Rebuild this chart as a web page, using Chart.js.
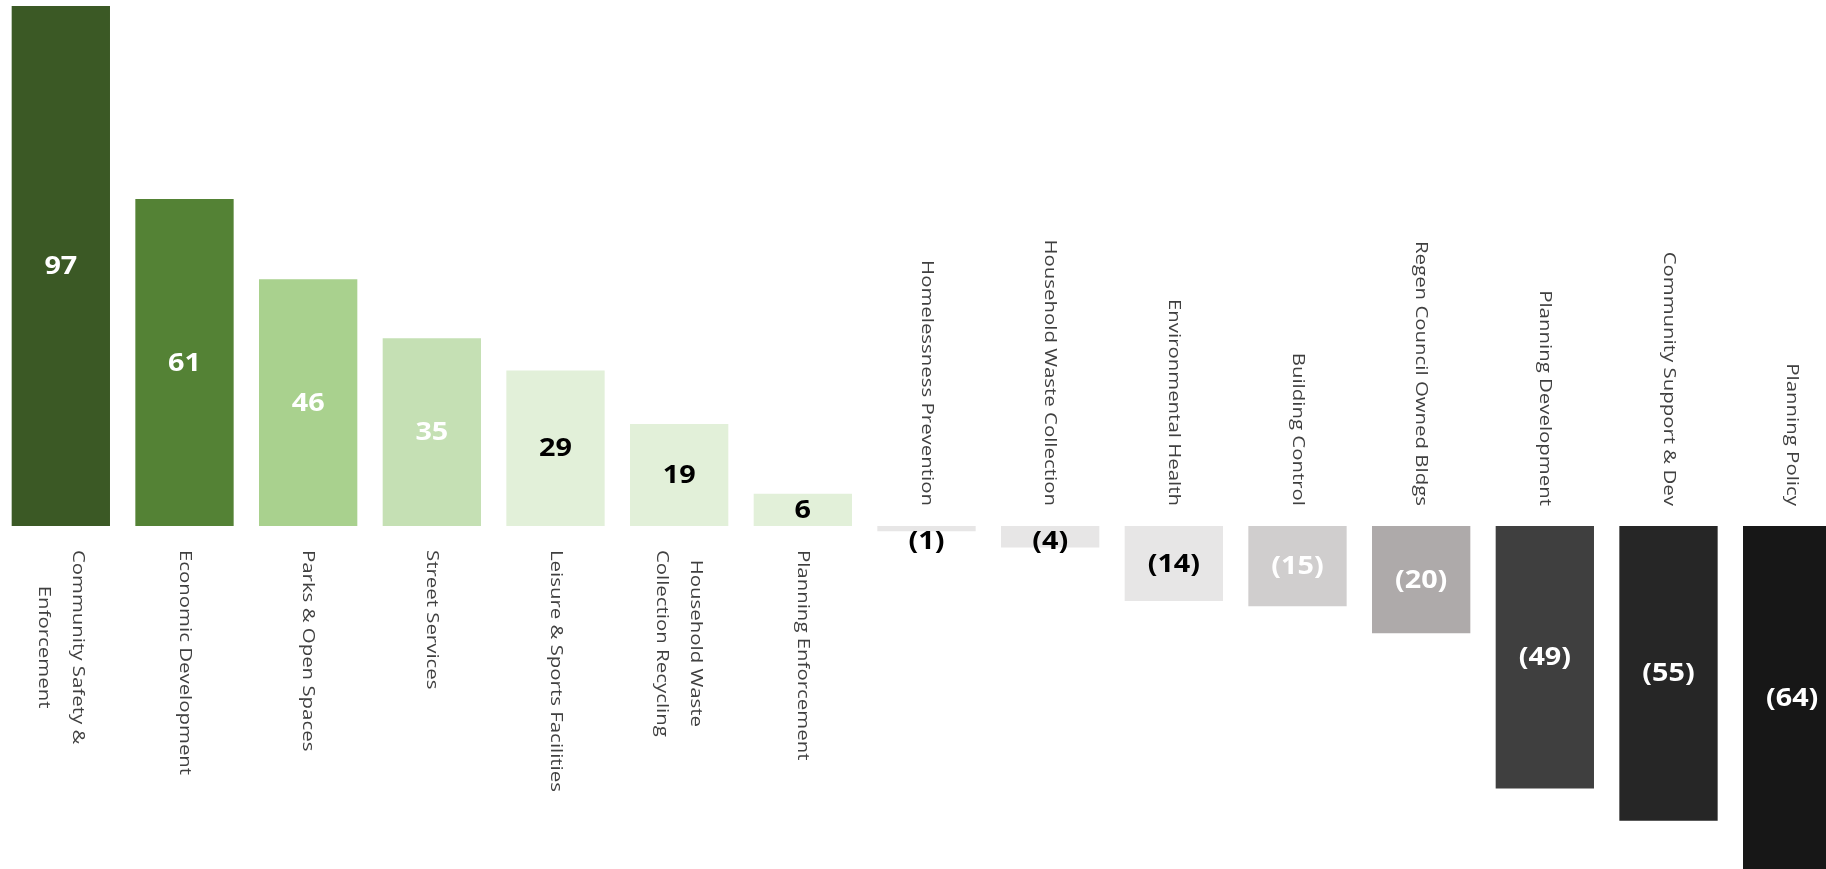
<!DOCTYPE html>
<html lang="en">
<head>
    <meta charset="UTF-8">
    <title>Service Variance</title>
    <script src="https://cdn.jsdelivr.net/npm/chart.js@4/dist/chart.umd.min.js"></script>
    <style>
        html, body {
            margin: 0;
            padding: 0;
            background: #ffffff;
            overflow: hidden;
        }
        .chart-wrap {
            position: absolute;
            left: -1px;
            top: 0;
            width: 1855px;
            height: 869px;
        }
    </style>
</head>
<body>
    <div class="chart-wrap">
        <canvas id="varianceChart"></canvas>
    </div>

    <script>
        // Services, split where the original wraps onto two lines
        const categories = [
            ['Community Safety &', 'Enforcement'],
            'Economic Development',
            'Parks & Open Spaces',
            'Street Services',
            'Leisure & Sports Facilities',
            ['Household Waste', 'Collection Recycling'],
            'Planning Enforcement',
            'Homelessness Prevention',
            'Household Waste Collection',
            'Environmental Health',
            'Building Control',
            'Regen Council Owned Bldgs',
            'Planning Development',
            'Community Support & Dev',
            'Planning Policy'
        ];

        const values = [97, 61, 46, 35, 29, 19, 6, -1, -4, -14, -15, -20, -49, -55, -64];

        const yMin = -64;
        const yMax = 97;

        const barColors = [
            '#3b5925', '#548235', '#a9d18e', '#c5e0b4', '#e2f0d9', '#e2f0d9', '#e2f0d9',
            '#e7e6e6', '#e7e6e6', '#e7e6e6', '#d0cece', '#aeaaaa', '#3f3f3f', '#262626', '#171717'
        ];
        const valueColors = [
            '#ffffff', '#ffffff', '#ffffff', '#ffffff', '#000000', '#000000', '#000000',
            '#000000', '#000000', '#000000', '#ffffff', '#ffffff', '#ffffff', '#ffffff', '#ffffff'
        ];

        // draws the value inside each bar and the rotated service name on the other side of zero
        const barLabels = {
            id: 'barLabels',
            afterDatasetsDraw(chart) {
                const ctx = chart.ctx;
                const xs = chart.scales.x;
                const ys = chart.scales.y;
                const zero = ys.getPixelForValue(0);

                values.forEach((v, i) => {
                    const px = xs.getPixelForValue(i);
                    const end = ys.getPixelForValue(v);

                    // value
                    let cy = (zero + end) / 2;
                    if (v < 0) cy = Math.max(cy, zero + 15);
                    else cy = Math.min(cy, zero - 15);
                    ctx.save();
                    ctx.translate(px, cy);
                    ctx.scale(1.15, 1);
                    ctx.font = 'bold 25px "Open Sans"';
                    ctx.fillStyle = valueColors[i];
                    ctx.textAlign = 'center';
                    ctx.textBaseline = 'middle';
                    ctx.fillText(v < 0 ? '(' + (-v) + ')' : String(v), 0, 1);
                    ctx.restore();

                    // category name, rotated clockwise
                    const lines = Array.isArray(categories[i]) ? categories[i] : [categories[i]];
                    ctx.save();
                    ctx.translate(px, v >= 0 ? zero + 24 : zero - 20);
                    ctx.rotate(Math.PI / 2);
                    ctx.scale(1.2, 1);
                    ctx.font = '17px "Open Sans"';
                    ctx.fillStyle = '#404040';
                    ctx.textAlign = 'left';
                    ctx.textBaseline = 'middle';
                    const widest = Math.max(...lines.map(l => ctx.measureText(l).width));
                    lines.forEach((line, k) => {
                        const w = ctx.measureText(line).width;
                        const tx = v >= 0 ? (widest - w) / 2 : -(widest + w) / 2;
                        const ty = (k - (lines.length - 1) / 2) * 34;
                        ctx.fillText(line, tx, ty);
                    });
                    ctx.restore();
                });
            }
        };

        new Chart(document.getElementById('varianceChart'), {
            type: 'bar',
            data: {
                labels: categories,
                datasets: [{
                    data: values,
                    backgroundColor: barColors,
                    borderWidth: 0,
                    barPercentage: 0.795,
                    categoryPercentage: 1
                }]
            },
            options: {
                responsive: true,
                maintainAspectRatio: false,
                animation: false,
                layout: {
                    padding: { top: 6, bottom: 0, left: 0, right: 0 }
                },
                plugins: {
                    legend: { display: false },
                    tooltip: { enabled: false }
                },
                scales: {
                    x: { display: false },
                    y: { display: false, min: yMin, max: yMax }
                }
            },
            plugins: [barLabels]
        });
    </script>
</body>
</html>
